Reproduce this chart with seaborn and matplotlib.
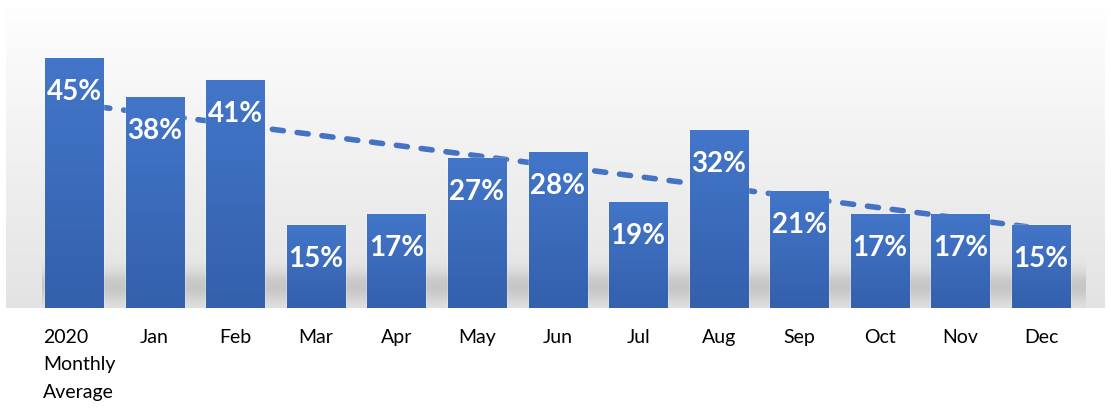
import numpy as np
import pandas as pd
import matplotlib
matplotlib.use("Agg")
import matplotlib.pyplot as plt
import matplotlib.transforms as mtransforms
from matplotlib.colors import to_rgb
import seaborn as sns

months = ["2020\nMonthly\nAverage", "Jan", "Feb", "Mar", "Apr", "May", "Jun",
          "Jul", "Aug", "Sep", "Oct", "Nov", "Dec"]
pct = [45, 38, 41, 15, 17, 27, 28, 19, 32, 21, 17, 17, 15]

df = pd.DataFrame({"month": months, "pct": pct, "pos": np.arange(len(months))})

sns.set_theme(style="white")
plt.rcParams["font.family"] = ["Lato", "DejaVu Sans"]

fig = plt.figure(figsize=(11.11, 4.08), dpi=100)
ax = fig.add_axes([6 / 1111, 100 / 408, 1099 / 1111, 300 / 408])

line_color = "#4472c4"
xmin, xmax, ymin, ymax = -0.844, 12.794, 0, 54

# background gradient (light top -> grey bottom)
top, bot = np.array(to_rgb("#fefefe")), np.array(to_rgb("#e3e3e3"))
t = np.linspace(0, 1, 256)[:, None]
bg = (top * (1 - t) + bot * t)[:, None, :]
ax.imshow(bg, extent=(xmin, xmax, ymin, ymax), aspect="auto", origin="upper", zorder=0)

# soft shadow under the bars
h = np.linspace(0, 1, 128)
alpha = np.exp(-((h - 0.35) / 0.25) ** 2) * 0.2
shadow = np.zeros((128, 1, 4))
shadow[..., :3] = 0.3
shadow[:, 0, 3] = alpha
ax.imshow(shadow, extent=(-0.4, 12.55, 0, 11), aspect="auto", origin="lower", zorder=1)

sns.barplot(data=df, x="month", y="pct", color="#3d6cbf", width=0.72, saturation=1,
            errorbar=None, ax=ax, zorder=3)

sns.regplot(data=df, x="pos", y="pct", scatter=False, ci=None, ax=ax,
            line_kws=dict(color=line_color, lw=4, ls=(0, (2.0, 2.5)),
                          dash_capstyle="round", zorder=2))

# vertical gradient inside each bar
ctop, cbot = np.array(to_rgb("#4376c9")), np.array(to_rgb("#3460ad"))
grad = (ctop * (1 - t) + cbot * t)[:, None, :]
for p in ax.patches:
    x0, y0 = p.get_x(), p.get_y()
    im = ax.imshow(grad, extent=(x0, x0 + p.get_width(), y0, y0 + p.get_height()),
                   aspect="auto", origin="upper", zorder=3.1)
    im.set_clip_path(p)

for i, v in enumerate(pct):
    ax.annotate(f"{v}%", (i, v), xytext=(0, -34), textcoords="offset pixels",
                ha="center", va="center", color="white", fontsize=20,
                fontweight="bold", zorder=5)

ax.set_xlim(xmin, xmax)
ax.set_ylim(ymin, ymax)
ax.set_xlabel("")
ax.set_ylabel("")
ax.set_yticks([])
ax.tick_params(axis="x", length=0, pad=15, labelsize=14, labelcolor="black")
for s in ax.spines.values():
    s.set_visible(False)

first = ax.get_xticklabels()[0]
first.set_ha("left")
first.set_linespacing(1.75)
first.set_transform(first.get_transform() +
                    mtransforms.ScaledTranslation(-0.31, 0, fig.dpi_scale_trans))

fig.savefig("out.png", dpi=100)
